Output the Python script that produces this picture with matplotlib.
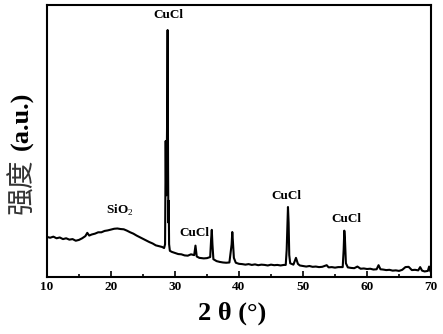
#!/usr/bin/env python3

"""
XRD pattern of the CuCl / SiO2 sample, redrawn with matplotlib.
"""

import matplotlib
matplotlib.use("Agg")
import matplotlib.pyplot as plt

# 2-theta positions (degrees) and intensity (a.u.)
two_theta = [
    10.0, 10.5, 11.0, 11.5, 12.0, 12.5, 13.0, 13.5, 14.0, 14.5,
    15.0, 15.5, 16.0, 16.3, 16.6, 17.0, 17.5, 18.0, 18.5, 19.0,
    19.5, 20.0, 20.5, 21.0, 21.5, 22.0, 22.5, 23.0, 23.5, 24.0,
    24.5, 25.0, 25.5, 26.0, 26.5, 27.0, 27.5, 28.0, 28.3, 28.45,
    28.55, 28.62, 28.7, 28.78, 28.85, 28.92, 28.97, 29.02, 29.08, 29.2,
    29.5, 30.0, 30.5, 31.0, 31.5, 32.0, 32.5, 33.0, 33.2, 33.4,
    33.8, 34.5, 35.0, 35.5, 35.65, 35.75, 35.85, 36.0, 36.5, 37.0,
    37.5, 38.0, 38.5, 38.85, 38.95, 39.05, 39.2, 39.5, 40.0, 40.5,
    41.0, 41.5, 42.0, 42.5, 43.0, 43.5, 44.0, 44.5, 45.0, 45.5,
    46.0, 46.5, 47.0, 47.3, 47.45, 47.55, 47.65, 47.75, 47.85, 48.0,
    48.5, 48.9, 49.2, 49.5, 50.0, 50.5, 51.0, 51.5, 52.0, 52.5,
    53.0, 53.7, 54.0, 54.5, 55.0, 55.5, 56.2, 56.35, 56.45, 56.55,
    56.7, 57.0, 57.5, 58.0, 58.5, 59.0, 59.5, 60.0, 60.5, 61.0,
    61.5, 61.8, 62.1, 62.5, 63.0, 63.5, 64.0, 64.5, 65.0, 65.5,
    66.0, 66.5, 67.0, 67.5, 68.0, 68.3, 68.6, 69.0, 69.5, 69.7,
    69.9, 70.0,
]
intensity = [
    14.7, 14.4, 14.8, 14.2, 14.5, 13.9, 14.2, 13.7, 13.9, 13.3,
    13.6, 14.2, 15.0, 16.2, 15.2, 15.6, 15.9, 16.4, 16.4, 16.9,
    17.1, 17.4, 17.7, 17.8, 17.6, 17.5, 17.0, 16.4, 15.9, 15.2,
    14.6, 14.0, 13.4, 12.8, 12.3, 11.6, 11.3, 11.0, 10.6, 12.0,
    50.0, 30.0, 40.0, 60.0, 90.8, 40.0, 20.0, 28.0, 12.0, 9.6,
    9.2, 8.8, 8.4, 8.3, 7.9, 7.8, 8.3, 8.0, 11.5, 7.5,
    7.0, 6.8, 6.9, 7.3, 14.0, 17.3, 12.0, 6.5, 5.8, 5.5,
    5.3, 5.2, 5.3, 12.0, 16.5, 13.0, 7.0, 5.2, 4.8, 4.7,
    4.5, 4.7, 4.4, 4.6, 4.3, 4.5, 4.4, 4.2, 4.5, 4.3,
    4.4, 4.2, 4.4, 4.4, 10.0, 18.0, 25.7, 20.0, 8.0, 5.0,
    4.5, 7.0, 4.8, 4.2, 4.0, 3.8, 4.0, 3.7, 3.8, 3.6,
    3.7, 4.3, 3.5, 3.6, 3.4, 3.6, 3.6, 10.0, 17.0, 14.0,
    5.0, 3.5, 3.3, 3.2, 3.8, 3.0, 3.1, 2.9, 3.0, 2.7,
    2.8, 4.3, 2.8, 2.7, 2.5, 2.6, 2.3, 2.4, 2.2, 2.6,
    3.6, 3.7, 2.5, 2.6, 2.4, 3.6, 2.3, 2.0, 2.2, 3.8,
    2.0, 1.8,
]

# phase labels: text, 2-theta, height
label_text = ["CuCl", "SiO$_2$", "CuCl", "CuCl", "CuCl"]
label_x = [28.9, 21.3, 33.1, 47.45, 56.7]
label_y = [94.0, 21.5, 14.0, 27.7, 19.2]

SERIF = "Liberation Serif"
plt.rcParams["mathtext.fontset"] = "custom"
plt.rcParams["mathtext.rm"] = SERIF
plt.rcParams["mathtext.bf"] = SERIF + ":bold"

fig = plt.figure(figsize=(4.43, 3.34), dpi=100)
ax = fig.add_axes([0.106, 0.171, 0.867, 0.814])

ax.plot(two_theta, intensity, color="black", linewidth=1.5)

for txt, x, y in zip(label_text, label_x, label_y):
    ax.text(x, y, txt, ha="center", va="bottom", fontsize=9.5,
            fontweight="bold", family=SERIF)

ax.set_xlim(10, 70)
ax.set_ylim(0, 100)
ax.set_xticks([10, 20, 30, 40, 50, 60, 70])
ax.set_xticks([15, 25, 35, 45, 55, 65], minor=True)
ax.set_yticks([])
ax.tick_params(axis="x", which="both", direction="in", width=1.2)
ax.tick_params(axis="x", which="major", length=4, pad=3)
ax.tick_params(axis="x", which="minor", length=2.5)
for lbl in ax.get_xticklabels():
    lbl.set_family(SERIF)
    lbl.set_fontweight("bold")
    lbl.set_fontsize(9.5)
for sp in ax.spines.values():
    sp.set_linewidth(1.5)

# axis titles
fig.text(232 / 443, 1 - 313 / 334, "2 θ (°)", ha="center", va="center",
         fontsize=19, fontweight="bold", family=SERIF)
fig.text(22 / 443, 1 - 186 / 334, "强度", ha="center", va="center",
         rotation=90, fontsize=20, color="#333333", family="Noto Sans CJK SC")
fig.text(22 / 443, 1 - 121 / 334, "(a.u.)", ha="center", va="center",
         rotation=90, fontsize=19, fontweight="bold", family=SERIF)

fig.savefig("out.png", dpi=100)
